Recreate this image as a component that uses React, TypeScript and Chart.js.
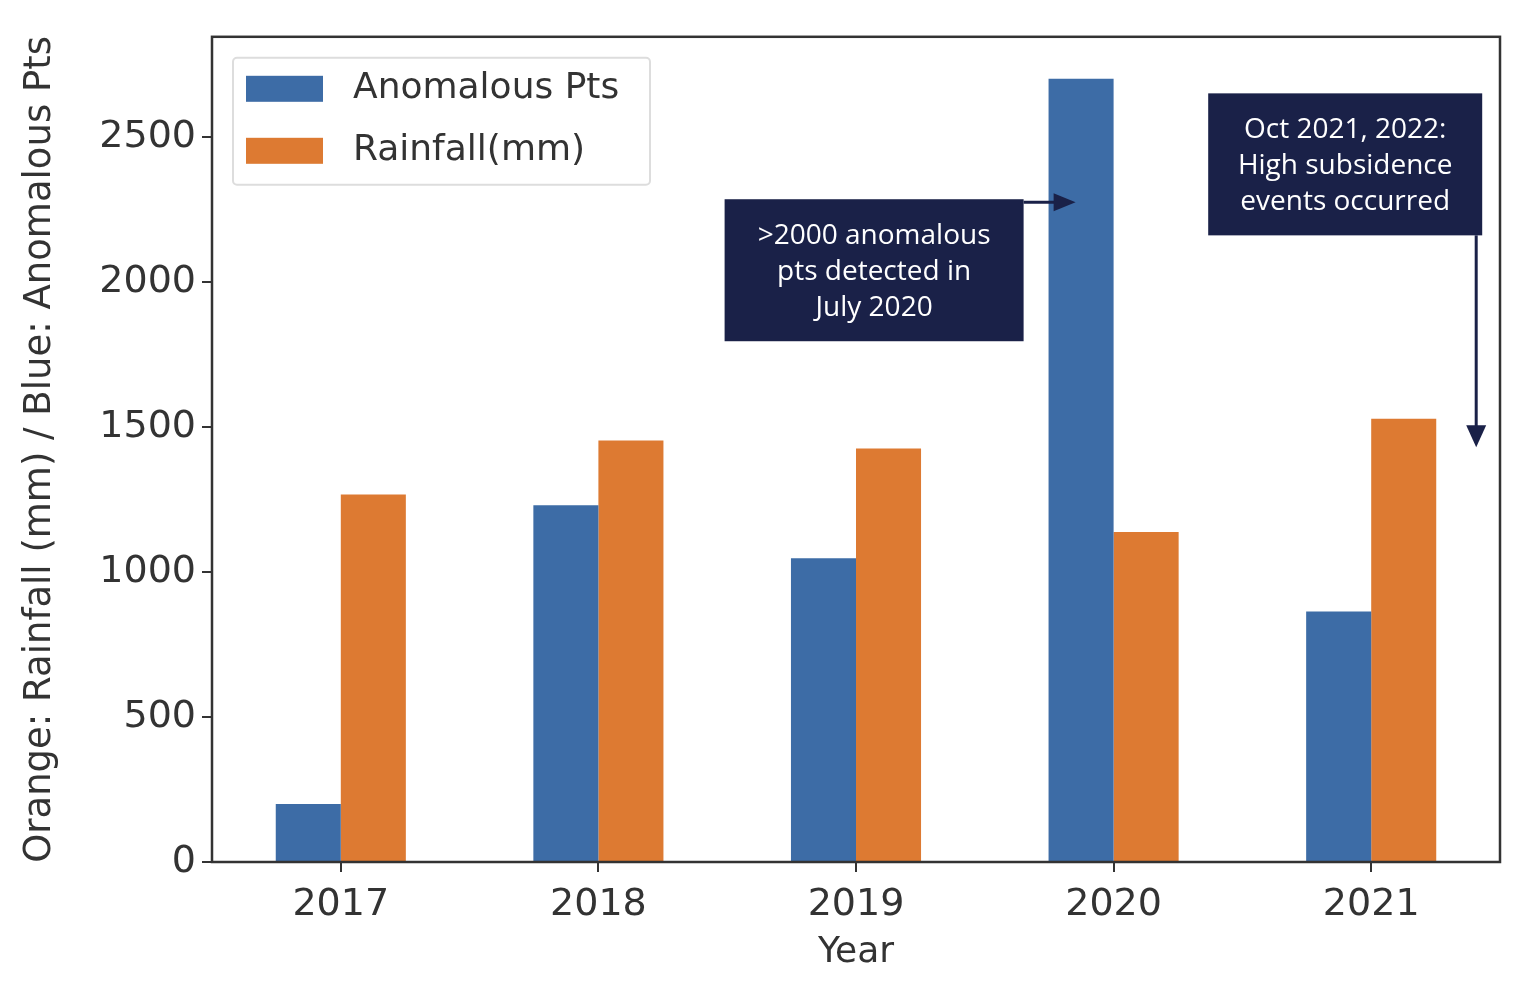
import React, { useEffect, useRef } from "react";
import { Chart, registerables } from "chart.js";
Chart.register(...registerables);

const years = ["2017", "2018", "2019", "2020", "2021"];
const anomalousPts = [200, 1230, 1047, 2700, 864];
const rainfall = [1267, 1453, 1426, 1138, 1528];
const yTicks = [0, 500, 1000, 1500, 2000, 2500];
const note1 = [">2000 anomalous", "pts detected in", "July 2020"];
const note2 = ["Oct 2021, 2022:", "High subsidence", "events occurred"];

const BLUE = "#3d6ca6";
const ORANGE = "#dd7a32";
const NAVY = "#1a2148";

const overlay = {
  id: "overlay",
  afterDraw(chart: any) {
    const { ctx, chartArea: a, scales } = chart;
    const x = scales.x, y = scales.y;
    ctx.save();
    ctx.strokeStyle = "#333";
    ctx.lineWidth = 2.5;
    ctx.strokeRect(a.left, a.top, a.right - a.left, a.bottom - a.top);
    const lx = a.left + 21, ly = a.top + 21;
    ctx.fillStyle = "#fff";
    ctx.strokeStyle = "#ddd";
    ctx.lineWidth = 2;
    ctx.beginPath();
    ctx.roundRect(lx, ly, 417, 127, 4);
    ctx.fill();
    ctx.stroke();
    ctx.font = "36px 'DejaVu Sans'";
    ctx.textBaseline = "middle";
    [["Anomalous Pts", BLUE], ["Rainfall(mm)", ORANGE]].forEach(([t, c], i) => {
      const cy = ly + 31 + i * 62;
      ctx.fillStyle = c;
      ctx.fillRect(lx + 13, cy - 13, 77, 26);
      ctx.fillStyle = "#333";
      ctx.fillText(t, lx + 120, cy);
    });
    const drawBox = (bx: number, by: number, w: number, h: number, lines: string[]) => {
      ctx.fillStyle = NAVY;
      ctx.fillRect(bx, by, w, h);
      ctx.fillStyle = "#fff";
      ctx.font = "28px 'Open Sans'";
      ctx.textAlign = "center";
      lines.forEach((l, i) => ctx.fillText(l, bx + w / 2, by + 37 + i * 36));
    };
    const c2020 = x.getPixelForValue(3);
    const c2021 = x.getPixelForValue(4);
    const b1x = c2020 - 389, b1y = y.getPixelForValue(2285);
    drawBox(b1x, b1y, 299, 142, note1);
    const b2x = c2021 - 163, b2y = y.getPixelForValue(2650);
    drawBox(b2x, b2y, 274, 142, note2);
    ctx.strokeStyle = NAVY;
    ctx.fillStyle = NAVY;
    ctx.lineWidth = 3;
    const ay = b1y + 3, ax = c2020 - 38;
    ctx.beginPath(); ctx.moveTo(b1x + 299, ay); ctx.lineTo(ax - 16, ay); ctx.stroke();
    ctx.beginPath(); ctx.moveTo(ax, ay); ctx.lineTo(ax - 22, ay - 9); ctx.lineTo(ax - 22, ay + 9); ctx.closePath(); ctx.fill();
    const vx = b2x + 268, vy = y.getPixelForValue(1430);
    ctx.beginPath(); ctx.moveTo(vx, b2y + 142); ctx.lineTo(vx, vy - 16); ctx.stroke();
    ctx.beginPath(); ctx.moveTo(vx, vy); ctx.lineTo(vx - 10, vy - 22); ctx.lineTo(vx + 10, vy - 22); ctx.closePath(); ctx.fill();
    ctx.restore();
  },
};

export default function App() {
  const ref = useRef<HTMLCanvasElement>(null);
  useEffect(() => {
    const chart = new Chart(ref.current!, {
      type: "bar",
      data: {
        labels: years,
        datasets: [
          { label: "Anomalous Pts", data: anomalousPts, backgroundColor: BLUE, categoryPercentage: 0.505, barPercentage: 1 },
          { label: "Rainfall(mm)", data: rainfall, backgroundColor: ORANGE, categoryPercentage: 0.505, barPercentage: 1 },
        ],
      },
      options: {
        animation: false,
        responsive: false,
        layout: { padding: { top: 1, right: 8, left: 0, bottom: 0 } },
        plugins: { legend: { display: false }, tooltip: { enabled: false } },
        scales: {
          x: {
            grid: { display: true, offset: false, drawOnChartArea: false, tickLength: 10, color: "#333", lineWidth: 2 },
            border: { display: false },
            ticks: { color: "#333", font: { size: 38, family: "DejaVu Sans" }, padding: 10 },
            title: { display: true, text: "Year", color: "#333", font: { size: 36, family: "DejaVu Sans" }, padding: 0 },
            afterFit: (s: any) => { s.height = 112; },
          },
          y: {
            min: 0, max: 2845,
            afterBuildTicks: (s: any) => { s.ticks = yTicks.map((v) => ({ value: v })); },
            grid: { display: true, drawOnChartArea: false, tickLength: 10, color: "#333", lineWidth: 2 },
            border: { display: false },
            ticks: { color: "#333", font: { size: 38, family: "DejaVu Sans" }, padding: 6, callback: (v: any) => String(v) },
            title: { display: true, text: "Orange: Rainfall (mm) / Blue: Anomalous Pts", color: "#333", font: { size: 37, family: "DejaVu Sans" }, padding: { top: 10, bottom: 0 } },
            afterFit: (s: any) => { s.width = 204; },
          },
        },
      },
      plugins: [overlay],
    });
    return () => chart.destroy();
  }, []);
  return <canvas ref={ref} width={1500} height={966} style={{ display: "block" }} />;
}
